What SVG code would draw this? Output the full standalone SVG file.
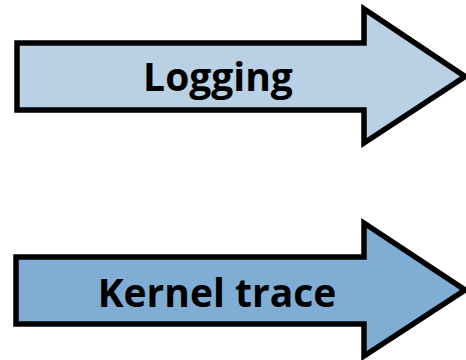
<svg xmlns="http://www.w3.org/2000/svg" width="466" height="360" viewBox="0 0 466 360">
<style>
.arrow{stroke:#000;stroke-width:5.5;stroke-linejoin:miter;stroke-miterlimit:10}
.lbl{font-family:"Open Sans","Liberation Sans",sans-serif;font-weight:bold;font-size:39px;fill:#000;text-anchor:middle}
</style>
<rect width="466" height="360" fill="#fff"/>
<g id="logging">
<path class="arrow" fill="#B9D0E5" d="M17,43 H364 V9 L465,76.5 L364,143 V110 H17 Z"/>
<text class="lbl" x="218" y="91">Logging</text>
</g>
<g id="kernel-trace">
<path class="arrow" fill="#80ADD3" d="M16,257 H364 V223 L465,290 L364,356 V324 H16 Z"/>
<text class="lbl" x="217" y="307">Kernel trace</text>
</g>
<g id="connectors"/>
</svg>
